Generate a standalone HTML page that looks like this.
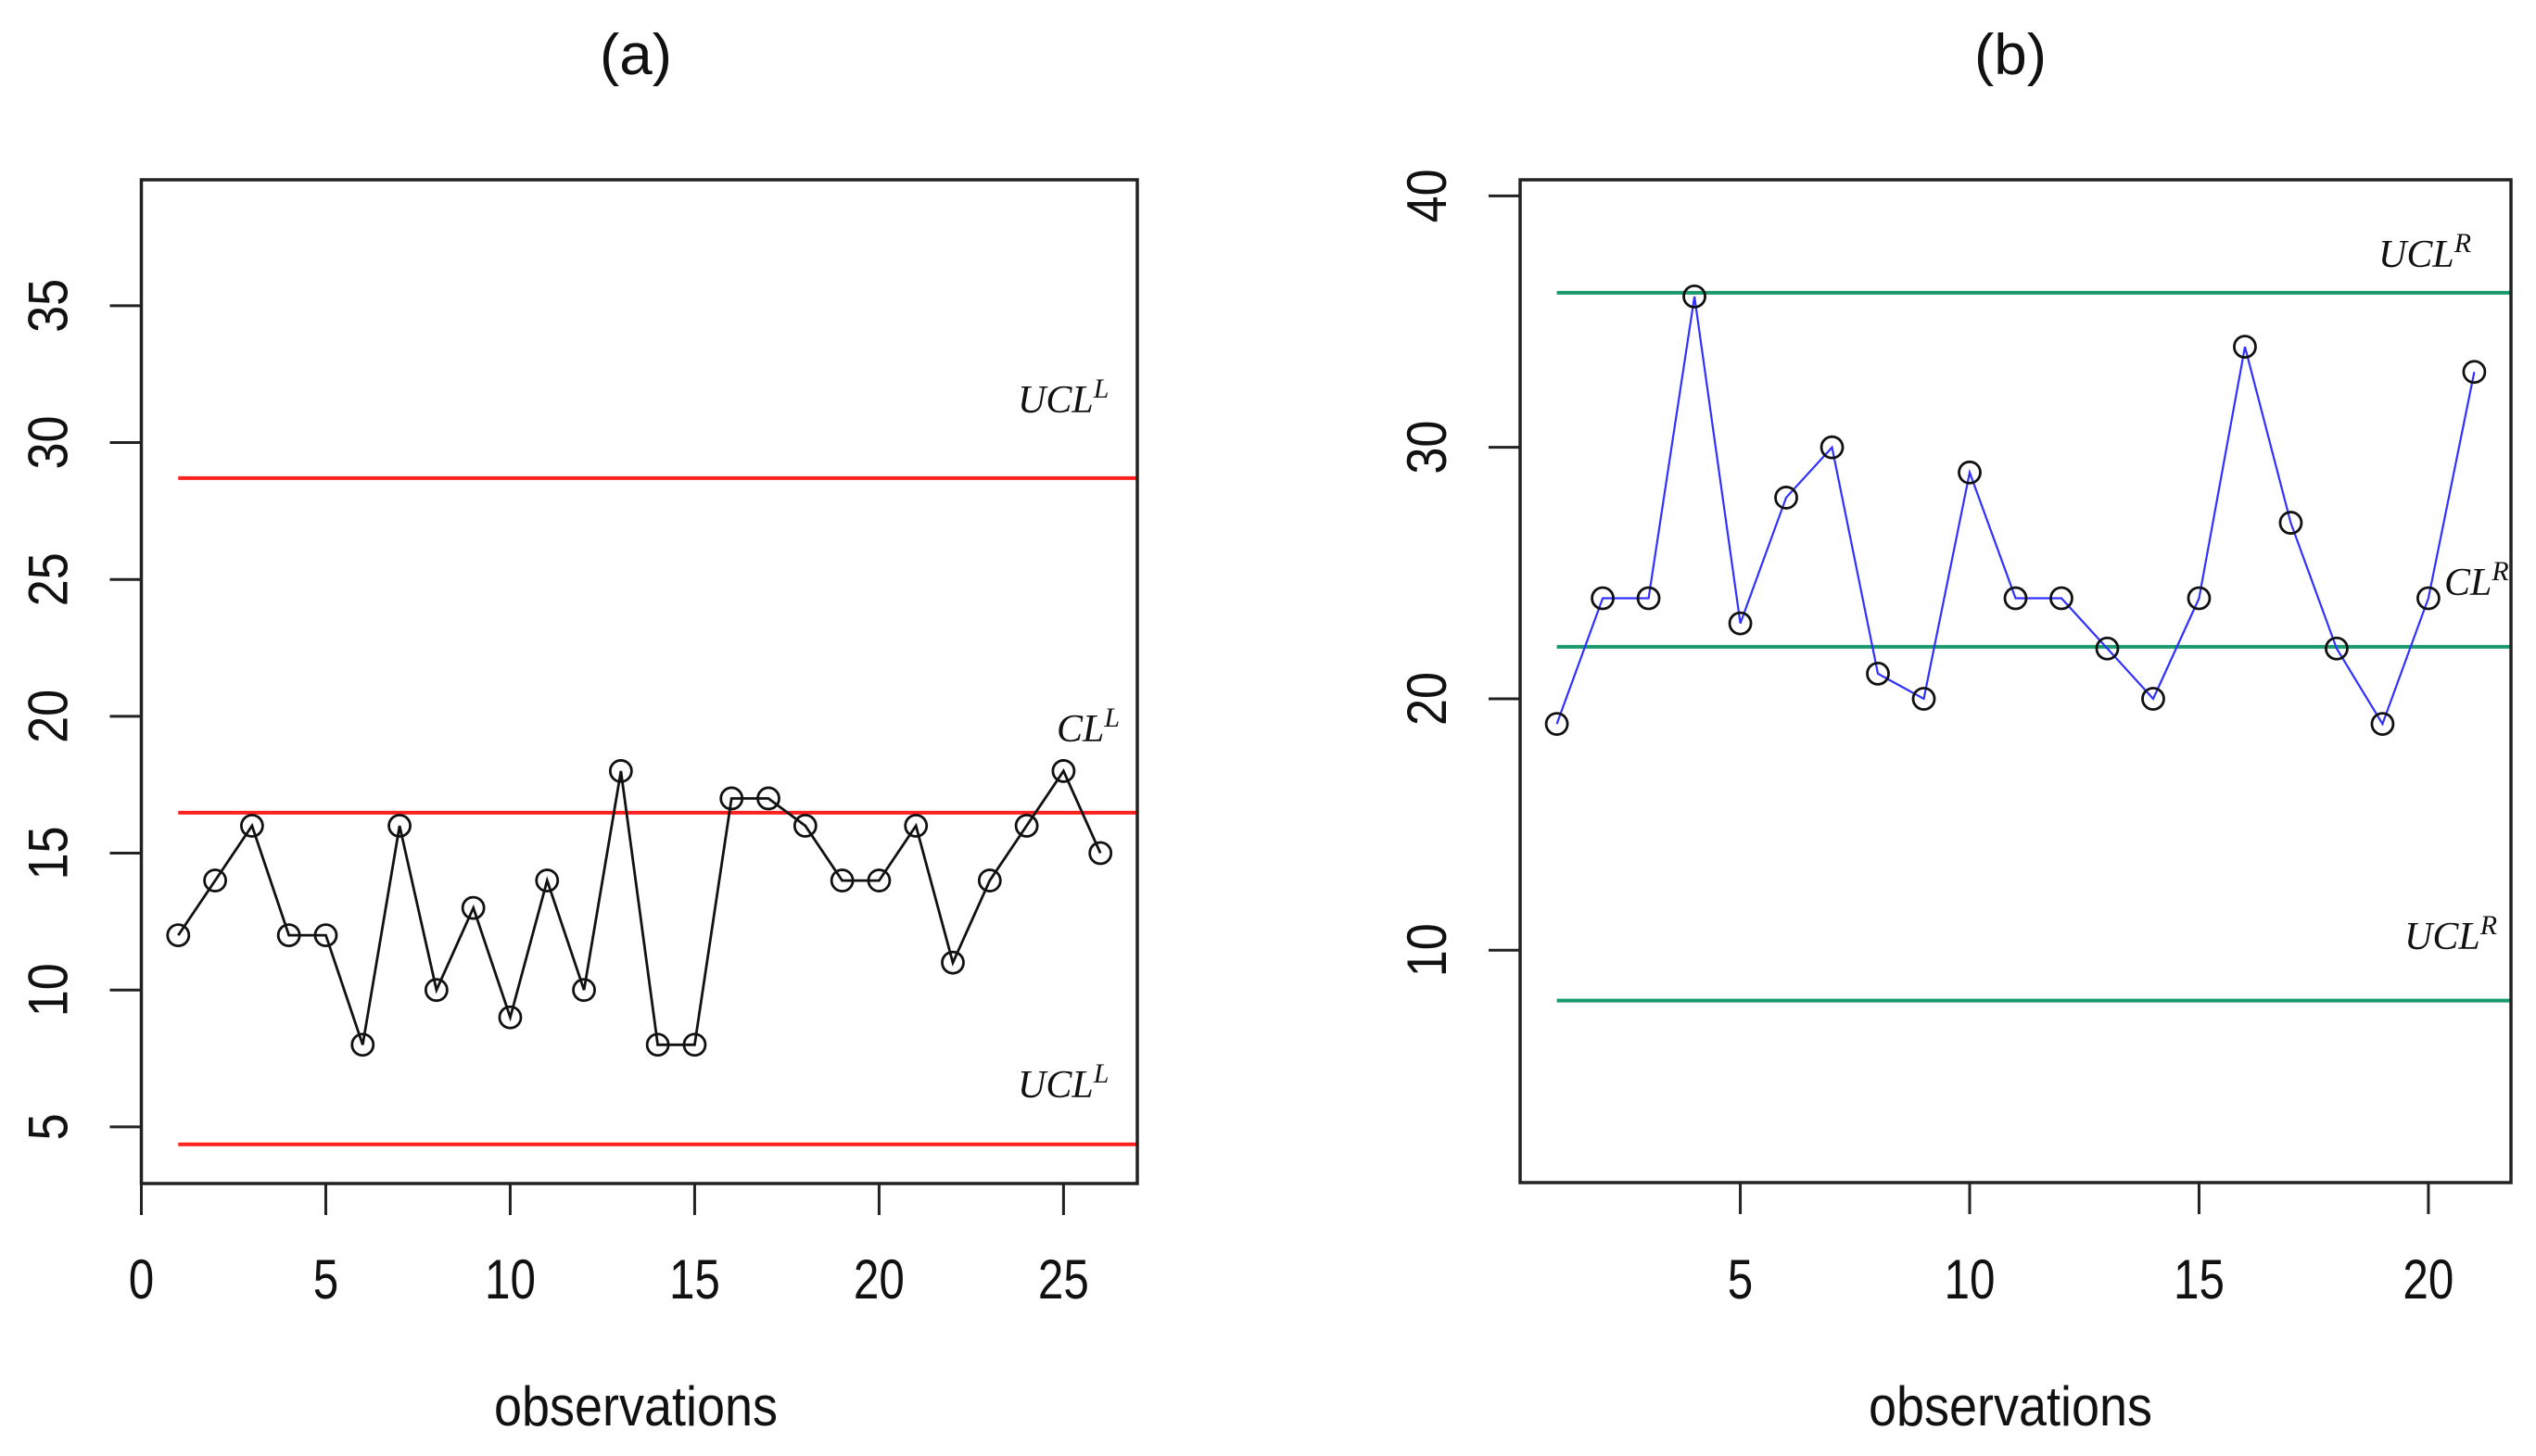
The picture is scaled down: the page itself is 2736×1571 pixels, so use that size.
<!DOCTYPE html>
<html><head><meta charset="utf-8"><style>
html,body{margin:0;padding:0;background:#fff;}
svg{display:block;}
.t{font-family:"Liberation Sans",Arial,sans-serif;fill:#111;}
.m{font-family:"Liberation Serif",serif;font-style:italic;fill:#111;}
</style></head><body>
<svg id="chart" width="2736" height="1571" viewBox="0 0 2736 1571" xmlns="http://www.w3.org/2000/svg"></svg>
<script>
// Panel (a)
const obsA = [1,2,3,4,5,6,7,8,9,10,11,12,13,14,15,16,17,18,19,20,21,22,23,24,25,26];
const valuesA = [12,14,16,12,12,8,16,10,13,9,14,10,18,8,8,17,17,16,14,14,16,11,14,16,18,15];
const limitsA = [28.7, 16.48, 4.36];
const limitLabelsA = ["UCL","CL","UCL"];
const supA = "L";
const xTicksA = [0,5,10,15,20,25];
const yTicksA = [5,10,15,20,25,30,35];
// Panel (b)
const obsB = [1,2,3,4,5,6,7,8,9,10,11,12,13,14,15,16,17,18,19,20,21];
const valuesB = [19,24,24,36,23,28,30,21,20,29,24,24,22,20,24,34,27,22,19,24,33];
const limitsB = [36.15, 22.07, 8.0];
const limitLabelsB = ["UCL","CL","UCL"];
const supB = "R";
const xTicksB = [5,10,15,20];
const yTicksB = [10,20,30,40];

const NS = "http://www.w3.org/2000/svg";
const svg = document.getElementById('chart');
function mk(tag, attrs, parent){
  const e = document.createElementNS(NS, tag);
  for (const k in attrs) e.setAttribute(k, attrs[k]);
  (parent||svg).appendChild(e); return e;
}

function panel(cfg){
  const g = mk('g', {});
  
  
  const X = v => cfg.x0 + (v - cfg.xmin) / (cfg.xmax - cfg.xmin) * (cfg.x1 - cfg.x0);
  const Y = v => cfg.y1 - (v - cfg.ymin) / (cfg.ymax - cfg.ymin) * (cfg.y1 - cfg.y0);

  // title
  const title = mk('text', {x:cfg.cx, y:80, 'text-anchor':'middle', class:'t', 'font-size':62, textLength:78, lengthAdjust:'spacingAndGlyphs'}, g);
  title.textContent = cfg.title;
  
  

  // limit lines
  cfg.limits.forEach((v, i) => {
    const ln = mk('line', {x1:X(1), x2:cfg.x1, y1:Y(v), y2:Y(v), stroke:cfg.limitColor, 'stroke-width':4}, g);
    
    
  });
  // limit labels
  cfg.labelPos.forEach((p, i) => {
    const t = mk('text', {x:p[0], y:p[1], class:'m', 'font-size':42}, g);
    t.textContent = cfg.labels[i];
    const s = mk('tspan', {dy:-16, 'font-size':30}, t);
    s.textContent = cfg.sup;
    
    
  });

  // series line
  const pts = cfg.obs.map((o, i) => X(o).toFixed(1) + ',' + Y(cfg.values[i]).toFixed(1)).join(' ');
  const pl = mk('polyline', {points:pts, fill:'none', stroke:cfg.lineColor, 'stroke-width':cfg.lineWidth}, g);
  
  
  cfg.obs.forEach((o, i) => {
    const c = mk('circle', {cx:X(o), cy:Y(cfg.values[i]), r:11.5, fill:'none', stroke:'#111', 'stroke-width':2.8}, g);
    
    
  });

  // axes: box
  const box = mk('rect', {x:cfg.x0, y:cfg.y0, width:cfg.x1-cfg.x0, height:cfg.y1-cfg.y0, fill:'none', stroke:'#222', 'stroke-width':3.5}, g);
  
  

  // x axis
  cfg.xTicks.forEach(v => {
    const tk = mk('line', {x1:X(v), x2:X(v), y1:cfg.y1, y2:cfg.y1+34, stroke:'#222', 'stroke-width':3}, g);
    
    
    const s = String(v);
    const t = mk('text', {x:X(v), y:1401, 'text-anchor':'middle', class:'t', 'font-size':60, textLength:s.length*27.5, lengthAdjust:'spacingAndGlyphs'}, g);
    t.textContent = s;
    
    
  });
  // y axis
  cfg.yTicks.forEach(v => {
    const tk = mk('line', {x1:cfg.x0-34, x2:cfg.x0, y1:Y(v), y2:Y(v), stroke:'#222', 'stroke-width':3}, g);
    
    
    const s = String(v);
    const tx = cfg.x0 - 80;
    const t = mk('text', {x:tx, y:Y(v), 'text-anchor':'middle', class:'t', 'font-size':60, textLength:s.length*29, lengthAdjust:'spacingAndGlyphs', transform:'rotate(-90 '+tx+' '+Y(v)+')'}, g);
    t.textContent = s;
    
    
  });
  const xl = mk('text', {x:cfg.cx, y:1538, 'text-anchor':'middle', class:'t', 'font-size':60, textLength:306, lengthAdjust:'spacingAndGlyphs'}, g);
  xl.textContent = 'observations';
  
  
}

panel({name:'panel-a', title:'(a)', cx:686, x0:152.5, x1:1227, y0:194, y1:1277,
  xmin:0, xmax:27, ymin:2.93, ymax:39.6,
  obs:obsA, values:valuesA, limits:limitsA, labels:limitLabelsA, sup:supA,
  labelPos:[[1098,445],[1140,800],[1098,1184]],
  limitColor:'#ff2020', lineColor:'#111', lineWidth:2.8, xTicks:xTicksA, yTicks:yTicksA});

panel({name:'panel-b', title:'(b)', cx:2169, x0:1640, x1:2709, y0:194, y1:1276,
  xmin:0.2, xmax:21.8, ymin:0.76, ymax:40.64,
  obs:obsB, values:valuesB, limits:limitsB, labels:limitLabelsB, sup:supB,
  labelPos:[[2566,288],[2637,642],[2594,1024]],
  limitColor:'#1a9a6c', lineColor:'#3030ff', lineWidth:2.2, xTicks:xTicksB, yTicks:yTicksB});
</script>
</body></html>
